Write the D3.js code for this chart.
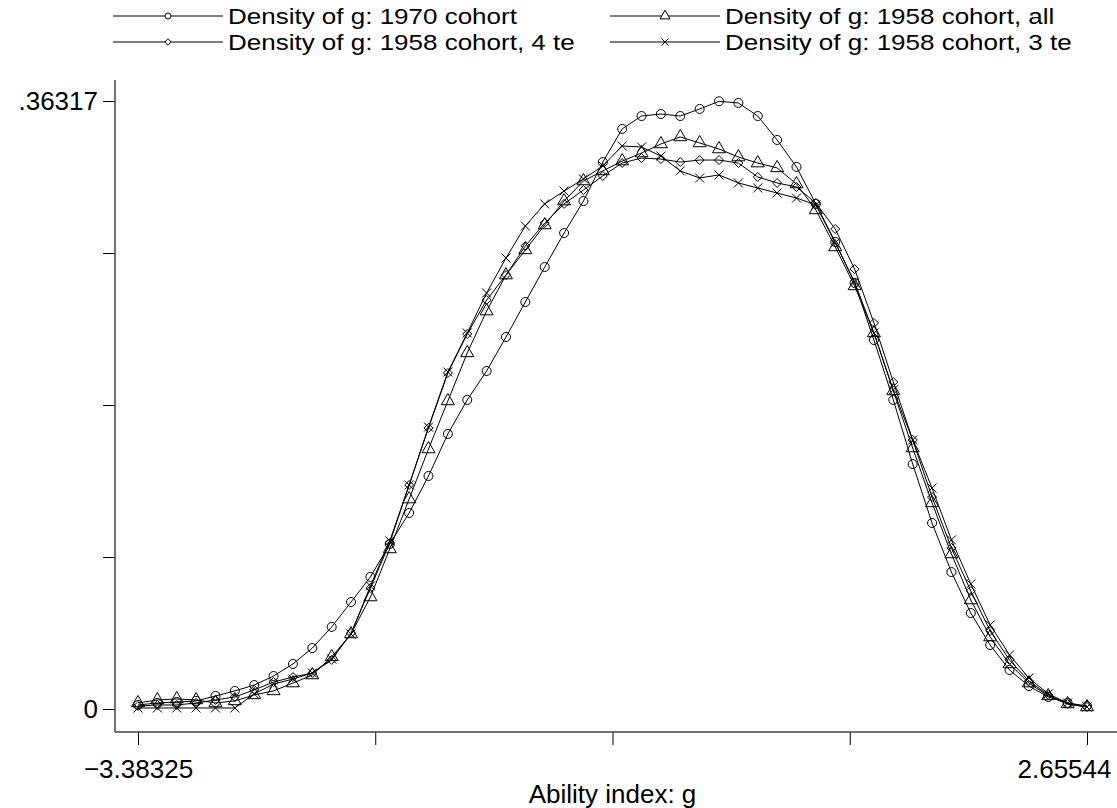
<!DOCTYPE html>
<html>
<head>
<meta charset="utf-8">
<script src="https://cdn.jsdelivr.net/npm/d3@7"></script>
<style>
  body { margin: 0; background: #fff; }
  svg { display: block; font-family: "Liberation Sans", Arial, Helvetica, sans-serif; }
  .axis text { font-size: 26px; fill: #000; }
  .axis line { stroke: #000; }
</style>
</head>
<body>
<div id="chart"></div>
<script>
// x grid: 50 evaluation points between the two end labels
const xMin = -3.38325, xMax = 2.65544;
const nPoints = 50;
const xGrid = d3.range(nPoints).map(i => xMin + i * (xMax - xMin) / (nPoints - 1));

// densities
const dens1970 = [0.0024, 0.0036, 0.0042, 0.0048, 0.0078, 0.0108, 0.0143, 0.0197, 0.0269, 0.0364,
  0.0490, 0.0639, 0.0789, 0.0986, 0.1171, 0.1392, 0.1643, 0.1846, 0.2019, 0.2222,
  0.2431, 0.2640, 0.2843, 0.3034, 0.3267, 0.3465, 0.3542, 0.3554, 0.3542, 0.3584,
  0.3630, 0.3620, 0.3542, 0.3399, 0.3238, 0.3017, 0.2790, 0.2545, 0.2204, 0.1846,
  0.1463, 0.1111, 0.0818, 0.0573, 0.0382, 0.0233, 0.0137, 0.0072, 0.0036, 0.0018];

const dens1958all = [0.0036, 0.0054, 0.0060, 0.0054, 0.0036, 0.0048, 0.0084, 0.0108, 0.0155, 0.0203,
  0.0311, 0.0448, 0.0669, 0.0956, 0.1254, 0.1553, 0.1840, 0.2127, 0.2377, 0.2592,
  0.2742, 0.2891, 0.3034, 0.3154, 0.3214, 0.3273, 0.3321, 0.3375, 0.3417, 0.3381,
  0.3345, 0.3297, 0.3261, 0.3232, 0.3136, 0.2981, 0.2760, 0.2527, 0.2246, 0.1900,
  0.1559, 0.1231, 0.0926, 0.0651, 0.0430, 0.0269, 0.0155, 0.0078, 0.0030, 0.0012];

const dens1958te4 = [0.0018, 0.0024, 0.0024, 0.0036, 0.0054, 0.0072, 0.0114, 0.0161, 0.0191, 0.0215,
  0.0293, 0.0454, 0.0723, 0.0992, 0.1338, 0.1679, 0.2007, 0.2240, 0.2443, 0.2592,
  0.2766, 0.2903, 0.3017, 0.3100, 0.3184, 0.3261, 0.3291, 0.3285, 0.3267, 0.3279,
  0.3279, 0.3261, 0.3178, 0.3142, 0.3118, 0.3022, 0.2867, 0.2628, 0.2306, 0.1953,
  0.1607, 0.1266, 0.0962, 0.0705, 0.0466, 0.0293, 0.0167, 0.0084, 0.0030, 0.0012];

const dens1958te3 = [0.0006, 0.0006, 0.0006, 0.0006, 0.0006, 0.0006, 0.0090, 0.0149, 0.0179, 0.0215,
  0.0299, 0.0448, 0.0735, 0.1004, 0.1338, 0.1684, 0.2013, 0.2246, 0.2485, 0.2694,
  0.2885, 0.3017, 0.3094, 0.3166, 0.3244, 0.3363, 0.3357, 0.3303, 0.3214, 0.3172,
  0.3190, 0.3142, 0.3112, 0.3082, 0.3052, 0.3011, 0.2784, 0.2551, 0.2246, 0.1906,
  0.1607, 0.1320, 0.1010, 0.0747, 0.0502, 0.0323, 0.0185, 0.0090, 0.0036, 0.0012];

const seriesNames = ["Density of g: 1970 cohort", "Density of g: 1958 cohort, all",
  "Density of g: 1958 cohort, 4 te", "Density of g: 1958 cohort, 3 te"];
const seriesMarkers = ["circle", "triangle", "diamond", "cross"];
const seriesValues = [dens1970, dens1958all, dens1958te4, dens1958te3];

const yMax = 0.36317;
const xTickLabels = ["\u22123.38325", "", "", "", "2.65544"];
const yTickLabels = ["0", "", "", "", ".36317"];
const xTitle = "Ability index: g";

const width = 1117, height = 808;
const plot = {left: 115, top: 80, bottom: 732, right: 1117};
const fontSize = 26;

const svg = d3.select("#chart").append("svg")
    .attr("width", width)
    .attr("height", height);

const x = d3.scaleLinear().domain([xMin, xMax]).range([138, 1087]);
const y = d3.scaleLinear().domain([0, yMax]).range([709, 101]);

// marker shapes, drawn hollow
function markerPath(type, big) {
    if (type === "circle") {
        let r = big ? 4.5 : 3;
        return "M" + r + ",0A" + r + "," + r + " 0 1,1 " + (-r) + ",0A" + r + "," + r + " 0 1,1 " + r + ",0Z";
    }
    if (type === "triangle") {
        let s = big ? 13 : 10;
        let h = s * Math.sqrt(3) / 2;
        return "M0," + (-h * 2 / 3) + "L" + (s / 2) + "," + (h / 3) + "L" + (-s / 2) + "," + (h / 3) + "Z";
    }
    if (type === "diamond") {
        let d = big ? 4.5 : 3.2;
        return "M0," + (-d) + "L" + d + ",0L0," + d + "L" + (-d) + ",0Z";
    }
    let c = big ? 4.5 : 3.5;
    return "M" + (-c) + "," + (-c) + "L" + c + "," + c + "M" + (-c) + "," + c + "L" + c + "," + (-c);
}

// axes
let xAxis = d3.axisBottom(x)
    .tickValues(d3.range(5).map(i => xMin + i * (xMax - xMin) / 4))
    .tickSize(13)
    .tickPadding(15)
    .tickFormat((d, i) => xTickLabels[i]);

let yAxis = d3.axisLeft(y)
    .tickValues(d3.range(5).map(i => i * yMax / 4))
    .tickSize(12)
    .tickPadding(5)
    .tickFormat((d, i) => yTickLabels[i]);

let gx = svg.append("g")
    .attr("class", "axis")
    .attr("transform", "translate(0," + plot.bottom + ")")
    .call(xAxis);
gx.select(".domain").remove();
// last label is pushed left so it stays inside the picture
gx.selectAll(".tick text")
    .filter((d, i) => i === 4)
    .attr("text-anchor", "end")
    .attr("x", 24);

let gy = svg.append("g")
    .attr("class", "axis")
    .attr("transform", "translate(" + plot.left + ",0)")
    .call(yAxis);
gy.select(".domain").remove();

// axis lines span the whole plot region
svg.append("line")
    .attr("x1", plot.left).attr("x2", plot.left)
    .attr("y1", plot.top).attr("y2", plot.bottom)
    .attr("stroke", "#444").attr("stroke-width", 1.5);
svg.append("line")
    .attr("x1", plot.left).attr("x2", plot.right)
    .attr("y1", plot.bottom).attr("y2", plot.bottom)
    .attr("stroke", "#444").attr("stroke-width", 1.5);

svg.append("text")
    .attr("x", (x(xMin) + x(xMax)) / 2)
    .attr("y", 803)
    .attr("text-anchor", "middle")
    .attr("font-size", fontSize)
    .text(xTitle);

// series: line then hollow markers
let line = d3.line()
    .x((d, i) => x(xGrid[i]))
    .y(d => y(d));

seriesValues.forEach((vals, s) => {
    let g = svg.append("g").attr("class", "series");
    g.append("path")
        .datum(vals)
        .attr("d", line)
        .attr("fill", "none")
        .attr("stroke", "#000")
        .attr("stroke-width", 1);
    g.selectAll("path.mark")
        .data(vals)
        .enter()
        .append("path")
        .attr("class", "mark")
        .attr("transform", (d, i) => "translate(" + x(xGrid[i]) + "," + y(d) + ")")
        .attr("d", markerPath(seriesMarkers[s], true))
        .attr("fill", "none")
        .attr("stroke", "#000")
        .attr("stroke-width", 1);
});

// legend, two columns; rows sit close, so the lettering is a bit flattened
let keyLength = 110;
let legendPos = [{x: 113, y: 16}, {x: 610, y: 16}, {x: 113, y: 42}, {x: 610, y: 42}];
let legend = svg.append("g").attr("class", "legend");
seriesNames.forEach((name, s) => {
    let p = legendPos[s];
    let g = legend.append("g").attr("transform", "translate(" + p.x + "," + p.y + ")");
    g.append("line")
        .attr("x1", 0).attr("x2", keyLength)
        .attr("y1", 0).attr("y2", 0)
        .attr("stroke", "#000");
    g.append("path")
        .attr("transform", "translate(" + (keyLength / 2) + ",0)")
        .attr("d", markerPath(seriesMarkers[s], false))
        .attr("fill", "#fff")
        .attr("stroke", "#000");
    g.append("text")
        .attr("transform", "translate(" + (keyLength + 5) + ",8) scale(1,0.86)")
        .attr("font-size", fontSize)
        .text(name);
});
</script>
</body>
</html>
